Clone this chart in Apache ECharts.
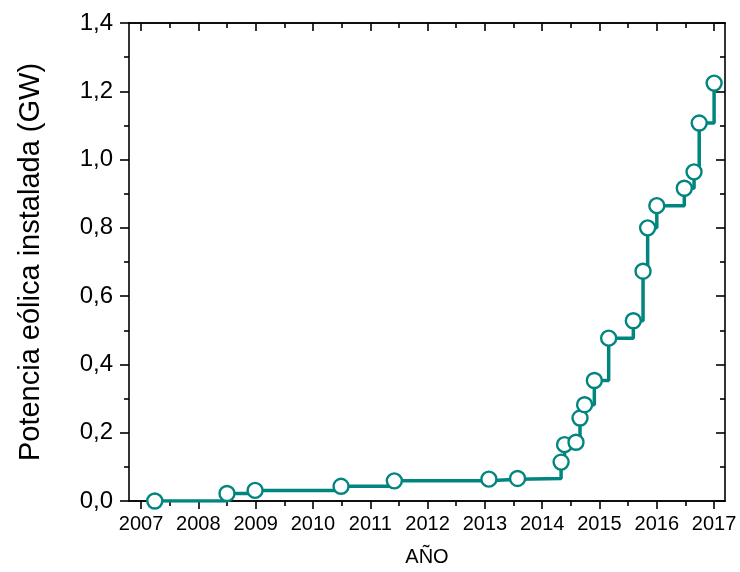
<!DOCTYPE html>
<html>
<head>
<meta charset="utf-8">
<script src="https://cdn.jsdelivr.net/npm/echarts@6/dist/echarts.min.js"></script>
<style>
html,body{margin:0;padding:0;background:#fff;}
#c{width:740px;height:572px;}
</style>
</head>
<body>
<div id="c"></div>
<script>
// Data
const years = [2007.24, 2008.5, 2008.99, 2010.49, 2011.42, 2013.07, 2013.57, 2014.33, 2014.39, 2014.59, 2014.66, 2014.74, 2014.91, 2015.16, 2015.59, 2015.76, 2015.84, 2016.0, 2016.48, 2016.65, 2016.74, 2017.0];
const power = [0.0, 0.022, 0.031, 0.043, 0.059, 0.064, 0.066, 0.114, 0.165, 0.172, 0.243, 0.282, 0.353, 0.477, 0.528, 0.673, 0.800, 0.865, 0.916, 0.964, 1.107, 1.224];
const yearTicks = [2007, 2008, 2009, 2010, 2011, 2012, 2013, 2014, 2015, 2016, 2017];
const halfTicks = [2007.5, 2008.5, 2009.5, 2010.5, 2011.5, 2012.5, 2013.5, 2014.5, 2015.5, 2016.5];

const teal = '#00857f';
const font = 'Liberation Sans, Arial, sans-serif';
const xMin = 2006.79, xMax = 2017.19;
const axisLine = {show: true, lineStyle: {color: '#000', width: 1.6}};

function xa(pos, vals, len, inside, labels, extra) {
  return Object.assign({
    type: 'value', position: pos, min: xMin, max: xMax,
    axisLine: axisLine,
    splitLine: {show: false},
    axisTick: {show: true, customValues: vals, length: len, inside: inside, lineStyle: {color: '#000', width: 1.6}},
    axisLabel: labels ? {show: true, customValues: vals, formatter: v => String(v), color: '#000', fontSize: 20, fontFamily: font, margin: 13} : {show: false}
  }, extra || {});
}

const chart = echarts.init(document.getElementById('c'));
chart.setOption({
  animation: false,
  backgroundColor: '#fff',
  grid: {left: 129, right: 15, top: 23, bottom: 68, containLabel: false},
  xAxis: [
    xa('bottom', yearTicks, 8, false, true, {name: 'AÑO', nameLocation: 'middle', nameGap: 46, nameTextStyle: {color: '#000', fontSize: 20, fontFamily: font}}),
    xa('bottom', halfTicks, 5, false, false),
    xa('top', yearTicks, 8, true, false),
    xa('top', halfTicks, 5, true, false)
  ],
  yAxis: [
    {
      type: 'value', position: 'left', min: 0, max: 1.4, interval: 0.2,
      axisLine: axisLine, splitLine: {show: false},
      axisTick: {show: true, length: 9, lineStyle: {color: '#000', width: 1.6}},
      minorTick: {show: true, splitNumber: 2, length: 5, lineStyle: {color: '#000', width: 1.6}},
      axisLabel: {formatter: v => v.toFixed(1).replace('.', ','), color: '#000', fontSize: 24, fontFamily: font, margin: 16},
      name: 'Potencia eólica instalada (GW)', nameLocation: 'middle', nameRotate: 90, nameGap: 84,
      nameTextStyle: {color: '#000', fontSize: 29, fontFamily: font}
    },
    {
      type: 'value', position: 'right', min: 0, max: 1.4, interval: 0.2,
      axisLine: axisLine, splitLine: {show: false},
      axisTick: {show: true, inside: true, length: 9, lineStyle: {color: '#000', width: 1.6}},
      minorTick: {show: true, splitNumber: 2, length: 5, lineStyle: {color: '#000', width: 1.6}},
      axisLabel: {show: false}
    }
  ],
  series: [{
    type: 'line', step: 'end', xAxisIndex: 0, yAxisIndex: 0,
    data: years.map((y, i) => [y, power[i]]),
    symbol: 'circle', symbolSize: 15,
    itemStyle: {color: '#fff', borderColor: teal, borderWidth: 2.4},
    lineStyle: {color: teal, width: 3.5},
    z: 3
  }]
});
</script>
</body>
</html>
